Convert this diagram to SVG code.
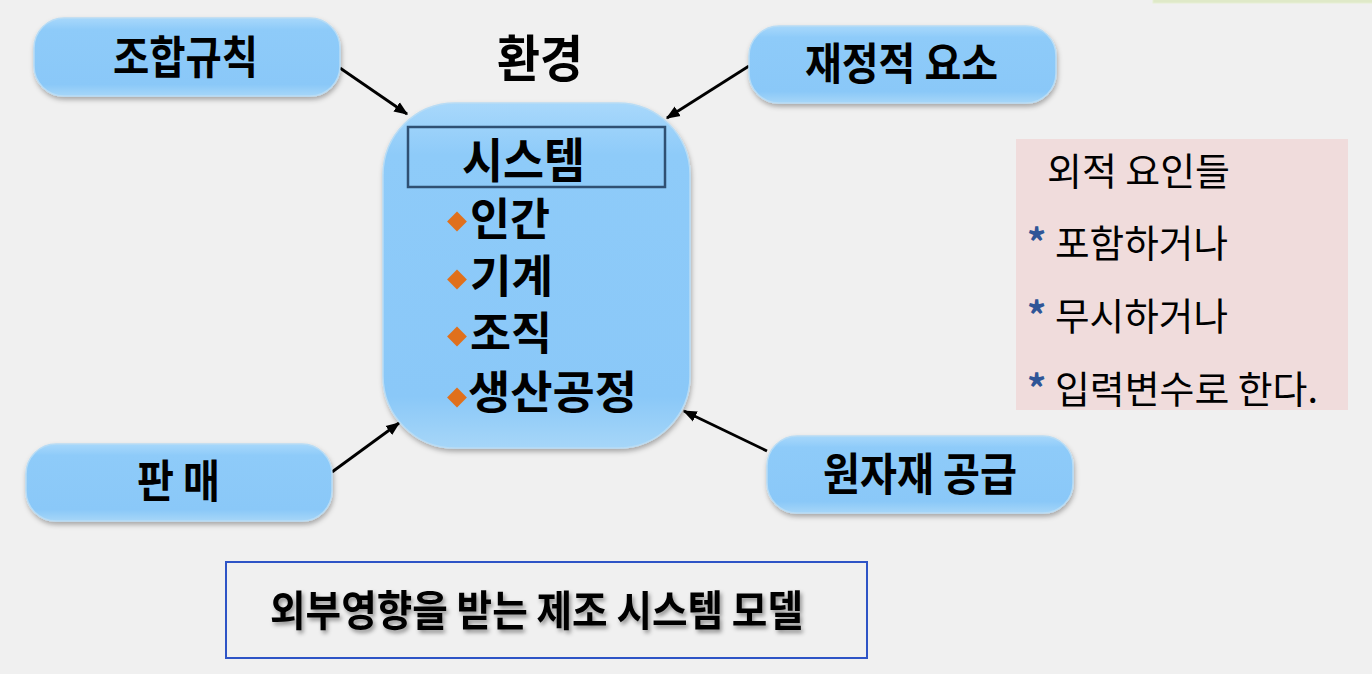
<svg xmlns="http://www.w3.org/2000/svg" width="1372" height="674" viewBox="0 0 1372 674">
<style>
.nb{fill:url(#blueG);stroke:#b8dcf5;stroke-width:1.5;filter:url(#sh)}
.lbl{font-family:"Noto Sans CJK KR","Noto Sans",sans-serif;font-weight:700;fill:#000}
.reg{font-family:"Noto Sans CJK KR","Noto Sans",sans-serif;font-weight:400;fill:#000;font-size:38px}
.star{fill:#2f5597;font-weight:700}
.con{stroke:#000;stroke-width:2.8;fill:none;marker-end:url(#ah)}
.dia{fill:#e0701c}
</style>
<defs>
<linearGradient id="blueG" x1="0" y1="0" x2="0" y2="1">
<stop offset="0" stop-color="#a8d8fb"/>
<stop offset="0.15" stop-color="#8ecbf9"/>
<stop offset="0.85" stop-color="#8ac8f8"/>
<stop offset="1" stop-color="#a6d6f8"/>
</linearGradient>
<filter id="sh" x="-10%" y="-10%" width="120%" height="130%">
<feDropShadow dx="1" dy="3" stdDeviation="2.5" flood-color="#000" flood-opacity="0.3"/>
</filter>
<filter id="tsh" x="-5%" y="-20%" width="110%" height="150%">
<feDropShadow dx="2" dy="3" stdDeviation="2" flood-color="#000" flood-opacity="0.4"/>
</filter>
<marker id="ah" viewBox="0 0 10 10" refX="9" refY="5" markerWidth="5" markerHeight="5" orient="auto-start-reverse" markerUnits="strokeWidth">
<path d="M0,1 L10,5 L0,9 z" fill="#000"/>
</marker>
</defs>
<rect width="1372" height="674" fill="#f0f0f0"/>
<rect x="1153" y="-20" width="230" height="23" fill="#dfe9c8" stroke="#e6efd4"/>

<g id="connectors">
<line class="con" x1="340" y1="68" x2="407" y2="114"/>
<line class="con" x1="749" y1="66" x2="667" y2="118"/>
<line class="con" x1="332" y1="472" x2="399" y2="423"/>
<line class="con" x1="767" y1="451" x2="684" y2="411"/>
</g>

<g id="env">
<text class="lbl" x="497" y="77" font-size="50" textLength="86" lengthAdjust="spacingAndGlyphs">환경</text>
</g>

<g id="n-rules">
<rect class="nb" x="34" y="18" width="306" height="78" rx="30"/>
<text class="lbl" x="113" y="74" font-size="45" textLength="145" lengthAdjust="spacingAndGlyphs">조합규칙</text>
</g>

<g id="n-finance">
<rect class="nb" x="749" y="26" width="307" height="77" rx="30"/>
<text class="lbl" x="805" y="80" font-size="44" textLength="193" lengthAdjust="spacingAndGlyphs">재정적 요소</text>
</g>

<g id="n-sales">
<rect class="nb" x="26" y="444" width="306" height="77" rx="30"/>
<text class="lbl" x="137" y="498" font-size="45" textLength="83" lengthAdjust="spacingAndGlyphs">판 매</text>
</g>

<g id="n-raw">
<rect class="nb" x="767" y="436" width="306" height="77" rx="30"/>
<text class="lbl" x="823" y="491" font-size="45" textLength="194" lengthAdjust="spacingAndGlyphs">원자재 공급</text>
</g>

<g id="n-system">
<rect class="nb" x="383" y="103" width="307" height="345" rx="72"/>
<rect x="408" y="127" width="257" height="60" fill="none" stroke="#2f5073" stroke-width="2.5"/>
<text class="lbl" x="462" y="178" font-size="48" textLength="123" lengthAdjust="spacingAndGlyphs">시스템</text>
<g class="dia">
<rect x="450" y="214.5" width="14" height="14" transform="rotate(45 457 221.5)"/>
<rect x="450" y="272.5" width="14" height="14" transform="rotate(45 457 279.5)"/>
<rect x="450" y="329.5" width="14" height="14" transform="rotate(45 457 336.5)"/>
<rect x="450" y="390.5" width="14" height="14" transform="rotate(45 457 397.5)"/>
</g>
<text class="lbl" x="470" y="236" font-size="45" textLength="80" lengthAdjust="spacingAndGlyphs">인간</text>
<text class="lbl" x="470" y="293" font-size="45" textLength="83" lengthAdjust="spacingAndGlyphs">기계</text>
<text class="lbl" x="470" y="350" font-size="45" textLength="82" lengthAdjust="spacingAndGlyphs">조직</text>
<text class="lbl" x="468" y="409" font-size="45" textLength="169" lengthAdjust="spacingAndGlyphs">생산공정</text>
</g>

<g id="n-external">
<rect x="1016" y="139" width="332" height="271" fill="#f0dcdc"/>
<text class="reg" x="1047" y="185" textLength="183" lengthAdjust="spacingAndGlyphs">외적 요인들</text>
<text class="reg" x="1027" y="257"><tspan class="star">*</tspan><tspan x="1055" textLength="173" lengthAdjust="spacingAndGlyphs">포함하거나</tspan></text>
<text class="reg" x="1027" y="330"><tspan class="star">*</tspan><tspan x="1055" textLength="173" lengthAdjust="spacingAndGlyphs">무시하거나</tspan></text>
<text class="reg" x="1027" y="403"><tspan class="star">*</tspan><tspan x="1055" textLength="263" lengthAdjust="spacingAndGlyphs">입력변수로 한다.</tspan></text>
</g>

<g id="n-caption">
<rect x="226" y="562" width="641" height="96" fill="none" stroke="#2e54c6" stroke-width="2"/>
<text class="lbl" x="270" y="626" font-size="42" textLength="533" lengthAdjust="spacingAndGlyphs" filter="url(#tsh)">외부영향을 받는 제조 시스템 모델</text>
</g>
</svg>
